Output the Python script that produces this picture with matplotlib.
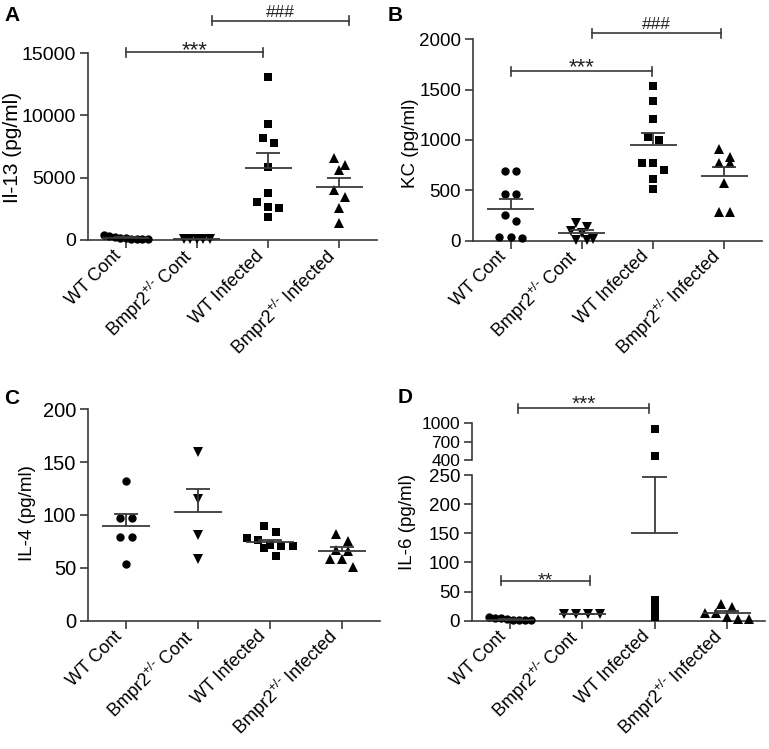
import matplotlib
matplotlib.use('Agg')
import matplotlib.pyplot as plt
import matplotlib.transforms as mtransforms
import numpy as np

plt.rcParams['font.family'] = ['Liberation Sans', 'DejaVu Sans']
plt.rcParams['mathtext.fontset'] = 'custom'
plt.rcParams['mathtext.rm'] = 'Liberation Sans'
plt.rcParams['mathtext.it'] = 'Liberation Sans:italic'
plt.rcParams['mathtext.bf'] = 'Liberation Sans:bold'

# ---------------- data ----------------
categories = ['WT Cont', r'Bmpr2$^{+/\text{-}}$ Cont', 'WT Infected',
              r'Bmpr2$^{+/\text{-}}$ Infected']

# Panel A: Il-13 (pg/ml)
il13_wt_cont = [380, 330, 220, 180, 150, 120, 100, 80, 60]
il13_bmpr2_cont = [120, 100, 90, 80, 70]
il13_wt_inf = [13100, 9280, 8210, 7750, 5880, 3800, 3020, 2650, 2570, 1840]
il13_bmpr2_inf = [6550, 6020, 5620, 4010, 3470, 2590, 1340]
il13_mean = [180, 95, 5800, 4225]
il13_sem = [40, 10, 1150, 725]

# Panel B: KC (pg/ml)
kc_wt_cont = [695, 689, 464, 464, 255, 195, 33, 23, 33]
kc_bmpr2_cont = [180, 135, 95, 75, 20, 10, 5]
kc_wt_inf = [1536, 1391, 1209, 1000, 1033, 768, 768, 702, 613, 510]
kc_bmpr2_inf = [911, 834, 775, 775, 576, 288, 288]
kc_mean = [317, 73, 954, 646]
kc_sem = [94, 33, 111, 89]

# Panel C: IL-4 (pg/ml)
il4_wt_cont = [132.5, 97.5, 97.5, 79.5, 79, 54]
il4_bmpr2_cont = [160, 115, 81, 58]
il4_wt_inf = [90, 84, 78, 76, 70.7, 71.6, 69, 71, 61.5]
il4_bmpr2_inf = [81.7, 75.7, 67, 65.5, 58, 58, 51]
il4_mean = [90, 103, 74, 66]
il4_sem = [10.6, 22, 2.5, 4]

# Panel D: IL-6 (pg/ml)
il6_wt_cont = [4, 2, 5, 1, 3, 2, 1, 6]
il6_bmpr2_cont = [11, 11, 11, 11]
il6_wt_inf = [900, 470, 35, 28, 20, 12, 8, 7, 7, 7]
il6_bmpr2_inf = [28, 24, 14, 13, 6, 3, 3]
il6_mean = [2, 11, 150, 13]
il6_sem = [0.5, 0.3, 97, 3.5]

markers = ['o', 'v', 's', '^']
marker_sizes = [6, 6.5, 5.6, 6.5]
LINE = '#3a3a3a'
W, H = 769, 749


def fig_rect(left, top, right, bottom):
    return [left / W, (H - bottom) / H, (right - left) / W, (bottom - top) / H]


def swarm_offsets(ax, vals, spacing, thr=8.0):
    """Prism-like horizontal spreading, in pixels, of points sharing a row."""
    vals = np.asarray(vals, float)
    ys = ax.transData.transform(np.column_stack([np.zeros_like(vals), vals]))[:, 1]
    order = np.argsort(-vals)
    offs = np.zeros(len(vals))
    rows = []
    for i in order:
        if rows and abs(ys[rows[-1][0]] - ys[i]) < thr:
            rows[-1].append(i)
        else:
            rows.append([i])
    for row in rows:
        n = len(row)
        for k, i in enumerate(row):
            offs[i] = (k - (n - 1) / 2) * spacing
    return offs


def draw_groups(ax, groups, spacing, lo=None, hi=None):
    ax.figure.canvas.draw()
    p0 = ax.transData.transform((0, 0))[0]
    p1 = ax.transData.transform((1, 0))[0]
    pxu = p1 - p0
    for gi, vals in enumerate(groups):
        v = np.asarray(vals, float)
        if lo is not None:
            v = v[v >= lo]
        if hi is not None:
            v = v[v <= hi]
        if len(v) == 0:
            continue
        offs = swarm_offsets(ax, v, spacing[gi])
        ax.plot(gi + offs / pxu, v, linestyle='none', marker=markers[gi],
                color='black', markersize=marker_sizes[gi], markeredgewidth=0,
                clip_on=False, zorder=3)


def draw_mean_sem(ax, means, sems):
    for gi, (m, s) in enumerate(zip(means, sems)):
        ax.hlines(m, gi - 0.33, gi + 0.33, color=LINE, lw=1.3, zorder=4, clip_on=False)
        ax.vlines(gi, m, m + s, color=LINE, lw=1.3, zorder=4, clip_on=False)
        ax.hlines(m + s, gi - 0.17, gi + 0.17, color=LINE, lw=1.3, zorder=4, clip_on=False)


def bracket(ax, x1, x2, y, label, text_off=9, tick_px=4.5, fs=None):
    ax.figure.canvas.draw()
    y_px = ax.transData.transform((0, y))[1]
    inv = ax.transData.inverted()
    yt = inv.transform((0, y_px + tick_px))[1]
    yb = inv.transform((0, y_px - tick_px))[1]
    if '*' in label:
        fs, c = (fs or 16), 0.58
    else:
        fs, c = (fs or 12.5), 0.36
    em = fs * 100 / 72
    ybase = inv.transform((0, y_px + text_off - c * em))[1]
    kw = dict(color=LINE, lw=1.2, clip_on=False)
    ax.plot([x1, x2], [y, y], **kw)
    ax.plot([x1, x1], [yb, yt], **kw)
    ax.plot([x2, x2], [yb, yt], **kw)
    ax.text((x1 + x2) / 2, ybase, label, ha='center', va='baseline', fontsize=fs,
            color='#222222')


def style_axis(ax, yticks, ylim, ysize, show_x=True):
    ax.set_xlim(-0.53, 3.53)
    ax.set_ylim(*ylim)
    ax.set_yticks(yticks)
    for s in ['top', 'right']:
        ax.spines[s].set_visible(False)
    for s in ['left', 'bottom']:
        ax.spines[s].set_color(LINE)
        ax.spines[s].set_linewidth(1.2)
    ax.tick_params(axis='both', color=LINE, width=1.2, length=5.5,
                   labelcolor='black')
    ax.tick_params(axis='y', labelsize=ysize, pad=3)
    if show_x:
        ax.set_xticks(range(4))
        ax.set_xticklabels(categories, rotation=45, ha='right', va='center',
                           rotation_mode='anchor', fontsize=13)
        ax.tick_params(axis='x', pad=4)
        off = mtransforms.ScaledTranslation(-5 / 72, 0, ax.figure.dpi_scale_trans)
        for lab in ax.get_xticklabels():
            lab.set_transform(lab.get_transform() + off)
    else:
        ax.set_xticks([])
        ax.spines['bottom'].set_visible(False)


fig = plt.figure(figsize=(W / 100, H / 100), dpi=100)

# ---------------- Panel A ----------------
axA = fig.add_axes(fig_rect(88, 53, 377, 240))
style_axis(axA, [0, 5000, 10000, 15000], (0, 15000), 14)
draw_groups(axA, [il13_wt_cont, il13_bmpr2_cont, il13_wt_inf, il13_bmpr2_inf],
            [5.5, 6.5, 11, 11])
draw_mean_sem(axA, il13_mean, il13_sem)
bracket(axA, 0.0, 1.93, 15080, '***')
bracket(axA, 1.21, 3.14, 17570, '###', text_off=10)
fig.text(13 / W, 1 - 147 / H, 'Il-13 (pg/ml)', rotation=90, ha='center', va='center', fontsize=15)
fig.text(4 / W, 1 - 6 / H, 'A', fontsize=15, fontweight='bold', ha='left', va='top')

# ---------------- Panel B ----------------
axB = fig.add_axes(fig_rect(473, 39.3, 762, 240.7))
style_axis(axB, [0, 500, 1000, 1500, 2000], (0, 2000), 13.5)
draw_groups(axB, [kc_wt_cont, kc_bmpr2_cont, kc_wt_inf, kc_bmpr2_inf],
            [11.5, 11, 11, 11.5])
draw_mean_sem(axB, kc_mean, kc_sem)
bracket(axB, 0.0, 1.98, 1685, '***', text_off=11)
bracket(axB, 1.14, 2.96, 2060, '###', text_off=11)
fig.text(410 / W, 1 - 143 / H, 'KC (pg/ml)', rotation=90, ha='center', va='center', fontsize=13.5)
fig.text(388 / W, 1 - 6 / H, 'B', fontsize=15, fontweight='bold', ha='left', va='top')

# ---------------- Panel C ----------------
axC = fig.add_axes(fig_rect(88, 409.3, 380, 620.7))
style_axis(axC, [0, 50, 100, 150, 200], (0, 200), 14.5)
draw_groups(axC, [il4_wt_cont, il4_bmpr2_cont, il4_wt_inf, il4_bmpr2_inf],
            [11.5, 11, 11.5, 11.5])
draw_mean_sem(axC, il4_mean, il4_sem)
fig.text(28 / W, 1 - 513 / H, 'IL-4 (pg/ml)', rotation=90, ha='center', va='center', fontsize=13.5)
fig.text(4 / W, 1 - 389 / H, 'C', fontsize=15, fontweight='bold', ha='left', va='top')

# ---------------- Panel D (broken axis) ----------------
axD = fig.add_axes(fig_rect(472, 475, 765, 620.7))
style_axis(axD, [0, 50, 100, 150, 200, 250], (0, 250), 13.5)
axDu = fig.add_axes(fig_rect(472, 423.3, 765, 460))
style_axis(axDu, [400, 700, 1000], (400, 1000), 12.5, show_x=False)
d_groups = [il6_wt_cont, il6_bmpr2_cont, il6_wt_inf, il6_bmpr2_inf]
draw_groups(axD, d_groups, [6, 12, 0, 11], hi=250)
draw_groups(axDu, d_groups, [6, 12, 0, 11], lo=400)
draw_mean_sem(axD, il6_mean, il6_sem)
bracket(axD, -0.13, 1.11, 68.6, '**', text_off=7, fs=14)
bracket(axDu, 0.11, 1.92, 1245, '***', text_off=11, fs=15)
fig.text(407 / W, 1 - 522 / H, 'IL-6 (pg/ml)', rotation=90, ha='center', va='center', fontsize=13.5)
fig.text(398 / W, 1 - 388 / H, 'D', fontsize=15, fontweight='bold', ha='left', va='top')

fig.savefig('out.png', dpi=100)
